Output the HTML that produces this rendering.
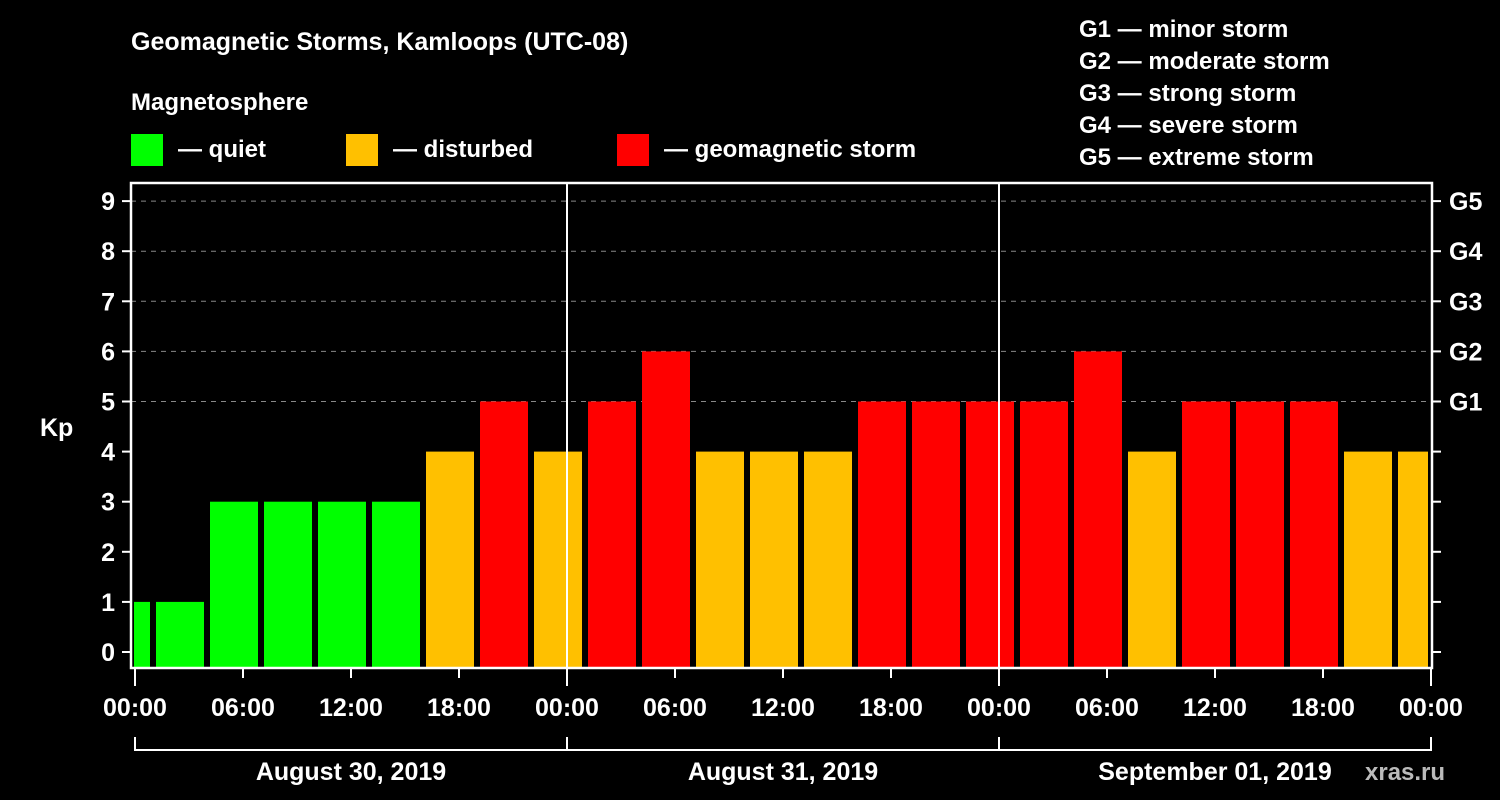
<!DOCTYPE html>
<html><head><meta charset="utf-8"><style>
html,body{margin:0;padding:0;background:#000;width:1500px;height:800px;overflow:hidden}
svg text{font-family:"Liberation Sans",sans-serif;font-weight:bold;fill:#fff}
</style></head><body>
<svg id="chart" width="1500" height="800">
<text x="131" y="50" font-size="25">Geomagnetic Storms, Kamloops (UTC-08)</text>
<text x="131" y="110" font-size="24">Magnetosphere</text>
<g><rect x="131" y="134" width="32" height="32" fill="#00ff00"/><text x="178" y="157" font-size="24">— quiet</text></g>
<g><rect x="346" y="134" width="32" height="32" fill="#ffc000"/><text x="393" y="157" font-size="24">— disturbed</text></g>
<g><rect x="617" y="134" width="32" height="32" fill="#ff0000"/><text x="664" y="157" font-size="24">— geomagnetic storm</text></g>
<g font-size="24">
<text x="1079" y="37">G1 — minor storm</text>
<text x="1079" y="69">G2 — moderate storm</text>
<text x="1079" y="101">G3 — strong storm</text>
<text x="1079" y="133">G4 — severe storm</text>
<text x="1079" y="165">G5 — extreme storm</text>
</g>
<text x="40" y="436" font-size="25">Kp</text>
<g id="grid"></g><g id="bars"></g><g id="axes"></g>
<text x="1365" y="780" font-size="24" fill="#bbb" style="fill:#bbb">xras.ru</text>
</svg>
<script>
const kpValues=[1,1,3,3,3,3,4,5,4,5,6,4,4,4,5,5,5,5,6,4,5,5,5,4,4];
const startHours=[-2,1,4,7,10,13,16,19,22,25,28,31,34,37,40,43,46,49,52,55,58,61,64,67,70];
const yTicks=[0,1,2,3,4,5,6,7,8,9];
const gLabels=["","","","","","G1","G2","G3","G4","G5"];
const xTickLabels=["00:00","06:00","12:00","18:00","00:00","06:00","12:00","18:00","00:00","06:00","12:00","18:00","00:00"];
const dayLabels=["August 30, 2019","August 31, 2019","September 01, 2019"];
const X0=135,HR=18,PL=131,PR=1432,PT=183,PB=668;
const y=v=>652-v*50.1;
const x=h=>X0+h*HR;
const ns="http://www.w3.org/2000/svg";
function mk(p,t,a){const e=document.createElementNS(ns,t);for(const k in a)e.setAttribute(k,a[k]);p.appendChild(e);return e;}
const grid=document.getElementById('grid'),bars=document.getElementById('bars'),axes=document.getElementById('axes');
function col(v){return v>=5?"#ff0000":v==4?"#ffc000":"#00ff00";}
kpValues.forEach((v,i)=>{
 let x1=Math.max(x(startHours[i])+3,PL+3),x2=Math.min(x(startHours[i]+3)-3,PR-4);
 const r=mk(bars,'rect',{x:x1,y:y(v),width:x2-x1,height:PB-y(v),fill:col(v)});
 
 
});
yTicks.forEach((t,i)=>{
 const yy=y(t);
 if(t>=5){const l=mk(grid,'line',{x1:PL,x2:PR,y1:yy,y2:yy,stroke:'#888','stroke-dasharray':'5,5'});
 }
 mk(axes,'line',{x1:122,x2:PL,y1:yy,y2:yy,stroke:'#fff','stroke-width':2});
 mk(axes,'line',{x1:PR,x2:1441,y1:yy,y2:yy,stroke:'#fff','stroke-width':2});
 const tl=mk(axes,'text',{x:115,y:yy+9,'font-size':25,'text-anchor':'end'});tl.textContent=t;
 
 if(gLabels[i]){const g=mk(axes,'text',{x:1449,y:yy+9,'font-size':25});g.textContent=gLabels[i];
 }
});
mk(axes,'rect',{x:PL,y:PT,width:PR-PL,height:PB-PT,fill:'none',stroke:'#fff','stroke-width':2.5});
[1,2].forEach(d=>mk(axes,'line',{x1:x(24*d),x2:x(24*d),y1:PT,y2:PB,stroke:'#fff','stroke-width':2}));
xTickLabels.forEach((s,i)=>{
 const xx=x(i*6),major=i%4==0;
 mk(axes,'line',{x1:xx,x2:xx,y1:PB,y2:major?686:678,stroke:'#fff','stroke-width':2});
 const t=mk(axes,'text',{x:xx,y:716,'font-size':25,'text-anchor':'middle'});t.textContent=s;
 
});
mk(axes,'line',{x1:x(0),x2:x(72),y1:750,y2:750,stroke:'#fff','stroke-width':2});
[0,24,48,72].forEach(h=>mk(axes,'line',{x1:x(h),x2:x(h),y1:737,y2:751,stroke:'#fff','stroke-width':2}));
dayLabels.forEach((s,i)=>{const t=mk(axes,'text',{x:x(24*i+12),y:780,'font-size':25,'text-anchor':'middle'});t.textContent=s;
 });
</script>
</body></html>
